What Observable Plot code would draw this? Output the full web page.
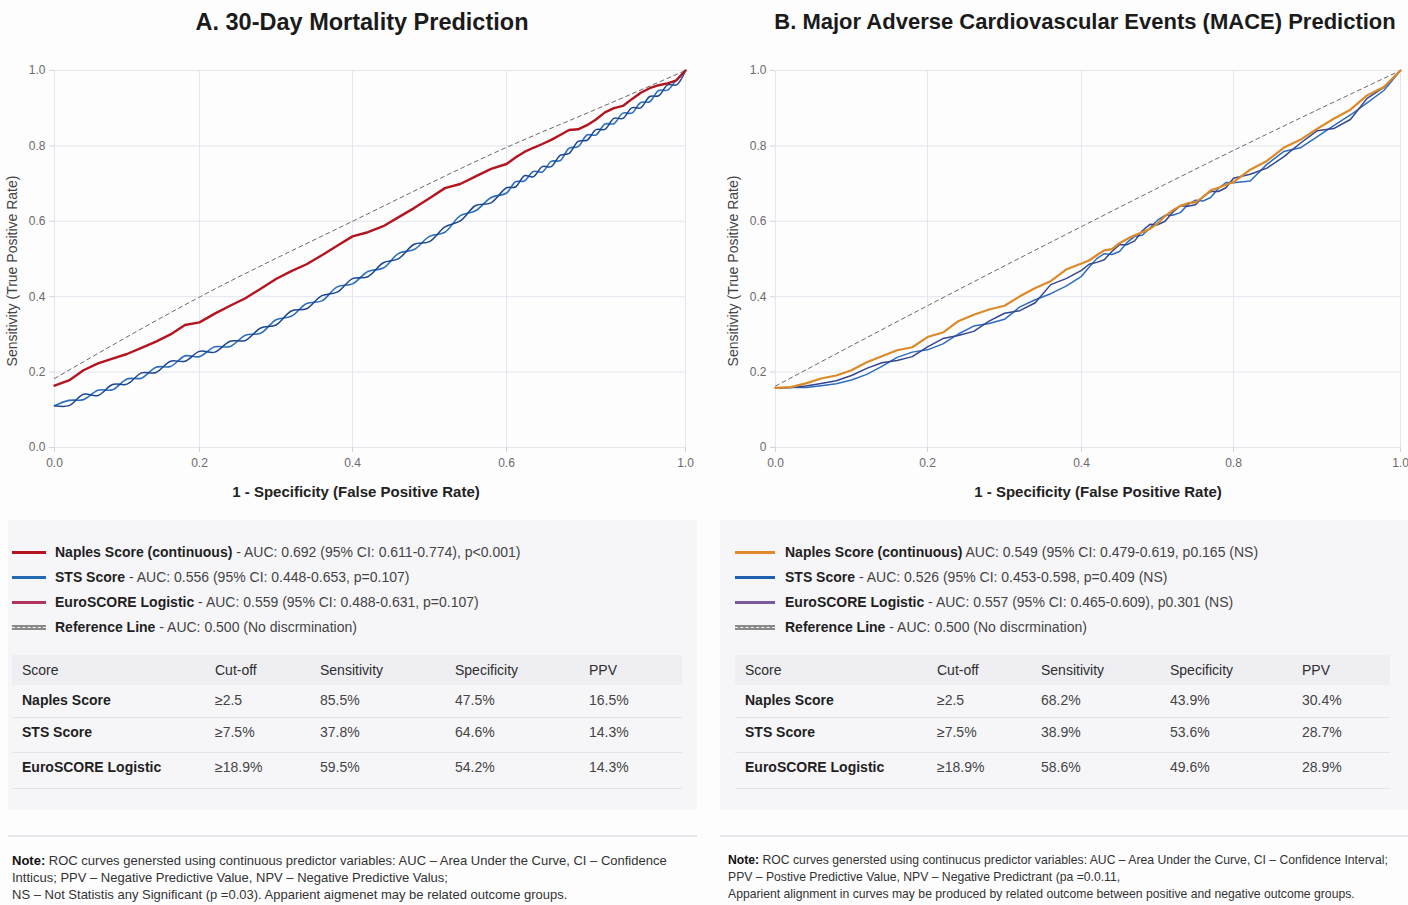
<!DOCTYPE html>
<html><head><meta charset="utf-8">
<script src="https://cdn.jsdelivr.net/npm/d3@7"></script>
<script src="https://cdn.jsdelivr.net/npm/@observablehq/plot@0.6"></script>
<style>
body{margin:0;background:#fdfdfe;font-family:"Liberation Sans",Arial,sans-serif;}
#root{position:relative;width:1408px;height:905px;overflow:hidden;}
.abs{position:absolute;}
.title{font-weight:700;font-size:22px;color:#1b1b1b;text-align:center;line-height:28px;white-space:nowrap;}
.box{background:#f6f6f9;}
.leg{position:absolute;height:25px;line-height:25px;font-size:14px;color:#444;white-space:nowrap;}
.leg b{color:#1f1f1f;}
.sw{position:absolute;}
.cell{position:absolute;font-size:14px;line-height:20px;color:#444;white-space:nowrap;}
.cell.h{color:#2e2e2e;}
.cell.b{color:#1f1f1f;font-weight:700;}
.sep{position:absolute;height:1px;background:#e3e3ea;}
.note{position:absolute;font-size:12px;line-height:17px;color:#333;white-space:nowrap;}
.note b{color:#111;}
svg [aria-label="x-axis label"] text, svg [aria-label="x-axis label"]{font-weight:700;font-size:15px;fill:#222;}
svg [aria-label="y-axis label"] text, svg [aria-label="y-axis label"]{font-size:14px;fill:#444;}
#svgA [aria-label="x-axis label"]{translate:-14px 0;}
#svgB [aria-label="x-axis label"]{translate:10px 0;}
svg [aria-label="y-axis label"]{translate:0 12px;}
</style></head>
<body><div id="root"></div>
<script>
// ---------- data ----------
const fpr = [0,0.02,0.04,0.06,0.08,0.10,0.12,0.14,0.16,0.18,0.20,0.22,0.24,0.26,0.28,0.30,0.32,0.34,0.36,0.38,0.40,0.42,0.44,0.46,0.48,0.50,0.52,0.54,0.56,0.58,0.60,0.62,0.64,0.66,0.68,0.70,0.72,0.74,0.76,0.78,0.80,0.82,0.84,0.86,0.88,0.90,0.92,0.94,0.96,0.98,1.00];

const naplesA = [0.164,0.178,0.205,0.223,0.236,0.248,0.264,0.281,0.300,0.325,0.332,0.355,0.376,0.396,0.421,0.447,0.468,0.486,0.510,0.535,0.560,0.571,0.587,0.611,0.635,0.661,0.688,0.699,0.719,0.739,0.752,0.769,0.784,0.795,0.805,0.816,0.829,0.842,0.844,0.855,0.870,0.889,0.900,0.906,0.924,0.941,0.953,0.961,0.966,0.974,1.000];
const stsA = [0.111,0.125,0.127,0.152,0.153,0.182,0.184,0.213,0.215,0.243,0.241,0.267,0.268,0.298,0.303,0.339,0.348,0.382,0.389,0.426,0.434,0.467,0.476,0.515,0.525,0.560,0.571,0.615,0.628,0.663,0.675,0.705,0.707,0.732,0.731,0.759,0.761,0.794,0.798,0.829,0.829,0.858,0.859,0.887,0.887,0.915,0.917,0.947,0.948,0.976,1.000];
const euroA = [0.111,0.111,0.141,0.138,0.167,0.168,0.198,0.199,0.229,0.229,0.255,0.253,0.282,0.284,0.317,0.325,0.362,0.368,0.403,0.412,0.448,0.453,0.490,0.501,0.539,0.546,0.585,0.601,0.642,0.649,0.689,0.691,0.721,0.718,0.745,0.745,0.775,0.780,0.812,0.815,0.843,0.844,0.873,0.873,0.901,0.901,0.931,0.933,0.962,0.962,1.000];

const naplesB = [0.158,0.160,0.170,0.183,0.191,0.205,0.226,0.242,0.258,0.266,0.293,0.305,0.335,0.352,0.366,0.376,0.401,0.423,0.441,0.472,0.488,0.496,0.510,0.523,0.526,0.542,0.553,0.563,0.571,0.580,0.594,0.614,0.629,0.641,0.648,0.650,0.664,0.682,0.689,0.697,0.704,0.737,0.760,0.795,0.816,0.845,0.872,0.896,0.934,0.956,1.000];
const stsB = [0.158,0.159,0.159,0.164,0.169,0.179,0.194,0.215,0.239,0.253,0.259,0.275,0.301,0.322,0.329,0.340,0.373,0.392,0.408,0.428,0.454,0.478,0.501,0.514,0.512,0.520,0.544,0.560,0.563,0.582,0.603,0.616,0.616,0.623,0.644,0.656,0.654,0.663,0.687,0.703,0.702,0.707,0.751,0.785,0.795,0.824,0.854,0.882,0.914,0.947,1.000];
const euroB = [0.158,0.159,0.163,0.170,0.177,0.191,0.210,0.225,0.231,0.241,0.267,0.289,0.297,0.308,0.335,0.356,0.363,0.384,0.432,0.448,0.470,0.486,0.491,0.498,0.520,0.538,0.538,0.548,0.575,0.592,0.591,0.600,0.624,0.641,0.640,0.644,0.666,0.679,0.679,0.689,0.714,0.725,0.741,0.771,0.807,0.840,0.846,0.870,0.926,0.955,1.000];

// reference (dashed) line as drawn
const refXA = [0, 0.2, 0.4, 0.6, 0.8, 1.0];
const refYA = [0.183, 0.399, 0.600, 0.796, 0.897, 1.0];
const refXB = [0, 0.2, 0.4, 0.8, 1.0];
const refYB = [0.163, 0.376, 0.586, 0.788, 1.0];

const xTicksA = [0, 0.2, 0.4, 0.6, 1.0];
const xTicksB = [0, 0.2, 0.4, 0.8, 1.0];
const yTicks = [0, 0.2, 0.4, 0.6, 0.8, 1.0];

const titleA = "A. 30-Day Mortality Prediction";
const titleB = "B. Major Adverse Cardiovascular Events (MACE) Prediction";
const xLabel = "1 - Specificity (False Positive Rate)";
const yLabel = "Sensitivity (True Positive Rate)";

const legendNamesA = ["Naples Score (continuous)", "STS Score", "EuroSCORE Logistic", "Reference Line"];
const legendTextA = [" - AUC: 0.692 (95% CI: 0.611-0.774), p<0.001)", " - AUC: 0.556 (95% CI: 0.448-0.653, p=0.107)", " - AUC: 0.559 (95% CI: 0.488-0.631, p=0.107)", " - AUC: 0.500 (No discrmination)"];
const legendNamesB = ["Naples Score (continuous)", "STS Score", "EuroSCORE Logistic", "Reference Line"];
const legendTextB = ["  AUC: 0.549 (95% CI: 0.479-0.619, p0.165 (NS)", " - AUC: 0.526 (95% CI: 0.453-0.598, p=0.409 (NS)", " - AUC: 0.557 (95% CI: 0.465-0.609), p0.301 (NS)", " - AUC: 0.500 (No discrmination)"];

const tableHeader = ["Score", "Cut-off", "Sensitivity", "Specificity", "PPV"];
const tableScores = ["Naples Score", "STS Score", "EuroSCORE Logistic"];
const cutoffs = ["≥2.5", "≥7.5%", "≥18.9%"];
const sensA = ["85.5%", "37.8%", "59.5%"];
const specA = ["47.5%", "64.6%", "54.2%"];
const ppvA = ["16.5%", "14.3%", "14.3%"];
const sensB = ["68.2%", "38.9%", "58.6%"];
const specB = ["43.9%", "53.6%", "49.6%"];
const ppvB = ["30.4%", "28.7%", "28.9%"];

const notesA = [
  ["Note:", " ROC curves genersted using continuous predictor variables: AUC – Area Under the Curve, CI – Confidence"],
  ["", "Intticus; PPV – Negative Predictive Value, NPV – Negative Predictive Valus;"],
  ["", "NS – Not Statistis any Significant (p =0.03). Apparient aigmenet may be related outcome groups."]
];
const notesB = [
  ["Note:", " ROC curves genersted using continucus predictor variables: AUC – Area Under the Curve, CI – Confidence Interval;"],
  ["", "PPV – Postive Predictive Value, NPV – Negative Predictrant (pa =0.0.11,"],
  ["", "Apparient alignment in curves may be produced by related outcome between positive and negative outcome groups."]
];

// ---------- styles ----------
const colors = {
  naplesA: "#b3141f", stsA: "#2b6fbe", euroA: "#1c4690",
  naplesB: "#dc8a28", stsB: "#2e6cc0", euroB: "#33468f",
  swA: ["#b3141f", "#2467b3", "#b2345c"],
  swB: ["#e08a2c", "#1f5fae", "#7d5a9e"]
};

const root = document.getElementById("root");
function el(tag, cls, style, html) {
  const e = document.createElement(tag);
  if (cls) e.className = cls;
  if (style) Object.assign(e.style, style);
  if (html !== undefined) e.innerHTML = html;
  root.appendChild(e);
  return e;
}

function roc(cfg) {
  const grid = "#e4e6ee";
  const rows = (vals) => fpr.map((x, i) => ({x, y: vals[i]}));
  const ref = cfg.refX.map((x, i) => ({x, y: cfg.refY[i]}));
  return Plot.plot({
    width: cfg.width, height: 460,
    marginTop: 20, marginBottom: 63, marginLeft: cfg.ml, marginRight: cfg.mr,
    style: {background: "transparent", fontFamily: "Liberation Sans, Arial, sans-serif", fontSize: "12px", overflow: "visible"},
    x: {type: "linear", domain: cfg.xTicks, range: cfg.xRange},
    y: {domain: [0, 1]},
    marks: [
      Plot.gridX(cfg.xTicks, {stroke: grid, strokeOpacity: 1}),
      Plot.gridY(yTicks, {stroke: grid, strokeOpacity: 1}),
      Plot.axisX(cfg.xTicks, {tickSize: 5, tickPadding: 6, stroke: "#d3d5de", fill: "#6a6a6a", fontSize: 12,
        tickFormat: d => d.toFixed(1), label: xLabel, labelAnchor: "center", labelOffset: 49, labelArrow: "none"}),
      Plot.axisY(yTicks, {tickSize: 5, tickPadding: 4, stroke: "#d3d5de", fill: "#6a6a6a", fontSize: 12,
        tickFormat: cfg.yFmt, label: yLabel, labelAnchor: "center", labelOffset: 47, labelArrow: "none"}),
      Plot.line(ref, {x: "x", y: "y", stroke: "#6a6a6a", strokeWidth: 1, strokeDasharray: "4,3.5", curve: "monotone-x"}),
      ...cfg.series.map(s => Plot.line(rows(s.values), {x: "x", y: "y", stroke: s.color, strokeWidth: s.w, curve: s.curve}))
    ]
  });
}

// titles
el("div", "abs title", {left: "0px", width: "724px", top: "8px", fontSize: "23.5px"}, titleA);
el("div", "abs title", {left: "762px", width: "646px", top: "8px"}, titleB);

// charts
const svgA = roc({
  width: 700, ml: 54, mr: 15, xTicks: xTicksA, xRange: [54, 199, 352, 506, 685], refX: refXA, refY: refYA,
  yFmt: d => d.toFixed(1),
  series: [
    {values: stsA, color: colors.stsA, w: 1.6, curve: "catmull-rom"},
    {values: euroA, color: colors.euroA, w: 1.5, curve: "catmull-rom"},
    {values: naplesA, color: colors.naplesA, w: 2.4, curve: "linear"}
  ]
});
svgA.id = "svgA";
Object.assign(svgA.style, {position: "absolute", left: "0px", top: "50px"});
root.appendChild(svgA);

const svgB = roc({
  width: 688, ml: 55, mr: 8, xTicks: xTicksB, xRange: [55, 207, 361, 513, 680], refX: refXB, refY: refYB,
  yFmt: d => d === 0 ? "0" : d.toFixed(1),
  series: [
    {values: stsB, color: colors.stsB, w: 1.5, curve: "linear"},
    {values: euroB, color: colors.euroB, w: 1.5, curve: "linear"},
    {values: naplesB, color: colors.naplesB, w: 2.2, curve: "linear"}
  ]
});
svgB.id = "svgB";
Object.assign(svgB.style, {position: "absolute", left: "720px", top: "50px"});
root.appendChild(svgB);

// legend / table boxes
function panelBox(o) {
  el("div", "abs box", {left: o.left + "px", top: "520px", width: o.width + "px", height: "290px"});
  const rowsY = [552, 577, 602, 627];
  o.names.forEach((n, i) => {
    if (i < 3) {
      el("div", "sw", {left: o.swL + "px", top: (rowsY[i] - 1.5) + "px", width: o.swW + "px", height: "3px", background: o.sw[i]});
    } else {
      el("div", "sw", {left: o.swL + "px", top: (rowsY[i] - 2.5) + "px", width: o.swW + "px", height: "5px", background: "#8a8a8a"});
      el("div", "sw", {left: o.swL + "px", top: (rowsY[i] - 0.5) + "px", width: o.swW + "px", height: "0", borderTop: "1px dashed #f2f2f2"});
    }
    el("div", "leg", {left: o.txtL + "px", top: (rowsY[i] - 12.5) + "px"}, "<b>" + n + "</b>" + o.texts[i].replace(/</g, "&lt;"));
  });
  // table
  el("div", "abs", {left: o.tL + "px", top: "655px", width: o.tW + "px", height: "30px", background: "#eeeef3"});
  tableHeader.forEach((h, j) => el("div", "cell h", {left: (o.tL + o.cols[j]) + "px", top: "660px"}, h));
  const rowC = [700, 732, 767];
  const seps = [717, 752, 788];
  tableScores.forEach((s, i) => {
    const vals = [s, cutoffs[i], o.sens[i], o.spec[i], o.ppv[i]];
    vals.forEach((v, j) => el("div", "cell" + (j === 0 ? " b" : ""), {left: (o.tL + o.cols[j]) + "px", top: (rowC[i] - 10) + "px"}, v));
    el("div", "sep", {left: o.tL + "px", top: seps[i] + "px", width: o.tW + "px"});
  });
  // note
  el("div", "abs", {left: o.left + "px", top: "835px", width: o.width + "px", height: "2px", background: "#e6e6ec"});
  o.notes.forEach((n, i) => el("div", "note", {left: o.nL + "px", top: (852 + i * 17) + "px", fontSize: o.nF + "px"}, (n[0] ? "<b>" + n[0] + "</b>" : "") + n[1]));
}

panelBox({left: 8, width: 689, names: legendNamesA, texts: legendTextA, sw: colors.swA, swL: 12, swW: 34, txtL: 55,
  tL: 12, tW: 670, cols: [10, 203, 308, 443, 577], sens: sensA, spec: specA, ppv: ppvA, notes: notesA, nL: 12, nF: 13});
panelBox({left: 720, width: 688, names: legendNamesB, texts: legendTextB, sw: colors.swB, swL: 735, swW: 40, txtL: 785,
  tL: 735, tW: 655, cols: [10, 202, 306, 435, 567], sens: sensB, spec: specB, ppv: ppvB, notes: notesB, nL: 728, nF: 12.2});
</script>
</body></html>
